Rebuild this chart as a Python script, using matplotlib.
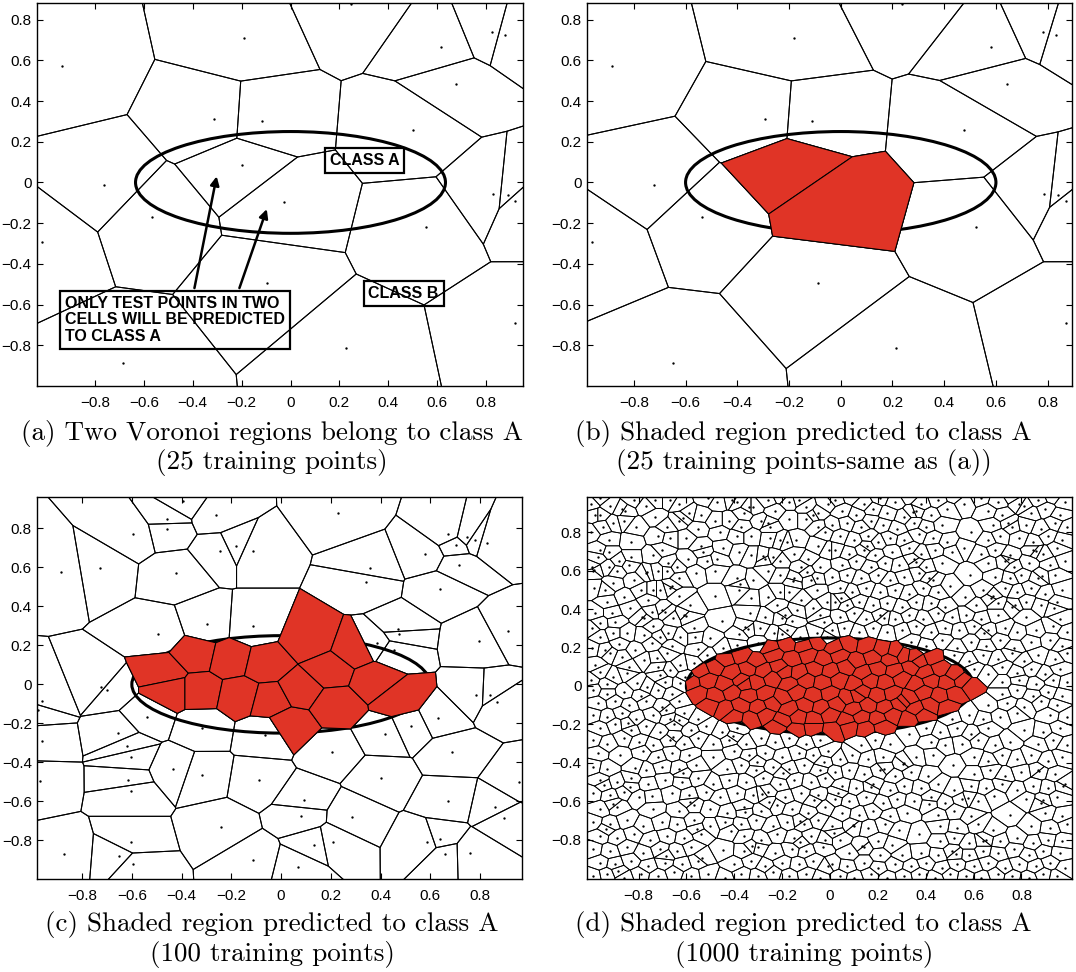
import numpy as np
import matplotlib
matplotlib.use("Agg")
import matplotlib.pyplot as plt
import matplotlib.tri as mtri
from matplotlib.collections import PolyCollection
from matplotlib.patches import Ellipse

# ---- training points (data units) ----
# panel (b): 25-point training set
pts_b = [(-0.883, 0.574), (-0.179, 0.711), (-0.294, 0.313), (-0.111, 0.302),
         (-0.722, -0.012), (-0.537, -0.169), (-0.961, -0.292), (-0.089, -0.495),
         (-0.647, -0.885), (0.781, 0.738), (0.831, 0.726), (0.582, 0.666),
         (0.641, 0.485), (0.475, 0.259), (0.785, -0.056), (0.841, -0.061),
         (0.869, -0.089), (0.523, -0.218), (0.214, -0.814), (-0.187, 0.087),
         (-0.026, -0.098), (0.236, 0.878), (0.870, -0.690)]
# panel (a): the same set, read against the (wider-spaced) x axis of panel (a)
pts_a = [(-0.934, 0.574), (-0.190, 0.711), (-0.311, 0.313), (-0.118, 0.302),
         (-0.764, -0.012), (-0.568, -0.169), (-1.017, -0.292), (-0.095, -0.495),
         (-0.685, -0.885), (0.826, 0.738), (0.879, 0.726), (0.615, 0.666),
         (0.678, 0.485), (0.502, 0.259), (0.830, -0.056), (0.889, -0.061),
         (0.919, -0.089), (0.553, -0.218), (0.226, -0.814), (-0.198, 0.087),
         (-0.028, -0.098), (0.249, 0.878), (0.920, -0.690)]

# panel (c): 100 points
pts_c_out = [(-0.393, 0.941), (-0.46, 0.85), (-0.458, 0.799), (-0.596, 0.773), (-0.262, 0.869),
             (-0.181, 0.71), (-0.245, 0.686), (-0.113, 0.686), (-0.885, 0.575), (-0.728, 0.596),
             (-0.423, 0.570), (-0.297, 0.312), (-0.113, 0.302), (-0.496, 0.259), (-0.724, -0.011),
             (0.229, 0.881), (0.672, 0.77), (0.747, 0.756), (0.779, 0.739), (0.83, 0.727),
             (0.703, 0.717), (0.579, 0.668), (0.716, 0.613), (0.358, 0.599), (0.341, 0.524),
             (0.64, 0.488), (0.472, 0.285), (0.474, 0.259), (0.386, 0.211), (0.455, 0.175),
             (0.911, 0.274), (0.795, 0.225),
             (-0.699, -0.028), (-0.96, -0.086), (-0.977, -0.131), (-0.54, -0.167), (-0.656, -0.25),
             (-0.319, -0.225), (-0.064, -0.259), (-0.963, -0.291), (-0.621, -0.315), (-0.604, -0.372),
             (-0.433, -0.432), (-0.318, -0.463), (-0.09, -0.493), (-0.97, -0.495), (-0.614, -0.493),
             (-0.604, -0.545), (-0.243, -0.731), (-0.604, -0.809), (-0.872, -0.869), (-0.651, -0.883),
             (-0.597, -0.922), (-0.113, -0.902),
             (0.783, -0.055), (0.84, -0.057), (0.868, -0.091), (0.633, -0.173), (0.522, -0.216),
             (0.416, -0.254), (0.205, -0.345), (0.688, -0.348), (0.402, -0.481), (0.956, -0.502),
             (0.091, -0.591), (0.673, -0.597), (0.861, -0.63), (0.08, -0.673), (0.287, -0.683),
             (0.897, -0.686), (0.134, -0.823), (0.21, -0.811), (0.586, -0.809), (0.641, -0.794),
             (0.66, -0.868), (0.758, -0.866), (0.067, -0.937)]
pts_c_in = [(-0.47, 0.06), (-0.346, 0.151), (-0.205, 0.126), (-0.064, 0.10), (-0.326, -0.028),
            (-0.165, -0.054), (-0.044, -0.079), (0.117, 0.228), (0.197, 0.074), (0.298, 0.177),
            (0.378, 0.023), (0.479, -0.079), (0.076, -0.028), (0.036, -0.208), (0.217, -0.105),
            (-0.447, -0.028)]

# panel (d): 1000 points, by quarter of the square
d_upper_left = [
    (-0.87, 0.92), (-0.77, 0.94), (-0.73, 0.97), (-0.67, 0.97), (-0.63, 0.95), (-0.59, 0.90), (-0.54, 0.89),
    (-0.47, 0.96), (-0.41, 0.97), (-0.39, 0.96), (-0.34, 0.93), (-0.32, 0.93), (-0.21, 0.99), (-0.17, 0.96),
    (-0.13, 0.97), (-0.10, 0.93), (-0.07, 0.89), (-0.05, 0.90), (-1.0, 0.95), (-0.96, 0.98), (-0.92, 0.94),
    (-0.82, 0.97), (-0.51, 0.98), (-0.26, 0.97), (-0.98, 0.89), (-0.96, 0.89), (-0.73, 0.88), (-0.68, 0.83),
    (-0.63, 0.86), (-0.48, 0.86), (-0.42, 0.86), (-0.37, 0.83), (-0.29, 0.86), (-0.26, 0.85), (-0.25, 0.83),
    (-0.17, 0.87), (-0.10, 0.87), (-0.05, 0.83), (-0.905, 0.85), (-0.81, 0.83), (-1.0, 0.80), (-0.83, 0.75),
    (-0.60, 0.77), (-0.54, 0.73), (-0.46, 0.80), (-0.445, 0.72), (-0.39, 0.78), (-0.33, 0.78), (-0.25, 0.77),
    (-0.21, 0.76), (-0.18, 0.75), (-0.14, 0.76), (-0.05, 0.73), (-0.006, 0.71), (-0.925, 0.76), (-0.72, 0.78),
    (-0.96, 0.71), (-0.925, 0.70), (-0.83, 0.67), (-0.74, 0.68), (-0.675, 0.64), (-0.64, 0.62), (-0.595, 0.66),
    (-0.38, 0.70), (-0.33, 0.68), (-0.27, 0.66), (-0.24, 0.67), (-0.21, 0.65), (-0.15, 0.69), (-0.09, 0.66),
    (-0.04, 0.62), (-0.515, 0.65), (-0.995, 0.62), (-0.99, 0.60), (-0.925, 0.62), (-0.89, 0.60), (-0.84, 0.63),
    (-0.77, 0.59), (-0.72, 0.60), (-0.68, 0.60), (-0.63, 0.56), (-0.56, 0.59), (-0.48, 0.60), (-0.39, 0.56),
    (-0.375, 0.53), (-0.32, 0.55), (-0.26, 0.60), (-0.21, 0.58), (-0.15, 0.56), (-0.097, 0.595), (-0.055, 0.56),
    (-0.985, 0.51), (-0.94, 0.50), (-0.905, 0.535), (-0.86, 0.465), (-0.79, 0.50), (-0.74, 0.50), (-0.71, 0.50),
    (-0.67, 0.51), (-0.63, 0.47), (-0.585, 0.42), (-0.48, 0.47), (-0.38, 0.50), (-0.33, 0.46), (-0.26, 0.465),
    (-0.21, 0.49), (-0.17, 0.49), (-0.12, 0.45), (-0.055, 0.50), (-0.013, 0.44), (-0.98, 0.38), (-0.912, 0.38),
    (-0.898, 0.335), (-0.835, 0.405), (-0.786, 0.36), (-0.745, 0.387), (-0.689, 0.387), (-0.654, 0.352),
    (-0.612, 0.37), (-0.45, 0.34), (-0.334, 0.378), (-0.271, 0.36), (-0.201, 0.352),
    (-0.187, 0.37), (-0.139, 0.396), (-0.069, 0.404), (-0.027, 0.335), (-0.995, 0.30), (-0.96, 0.257),
    (-0.905, 0.274), (-0.85, 0.274), (-0.779, 0.265), (-0.744, 0.222), (-0.71, 0.257), (-0.675, 0.274),
    (-0.626, 0.257), (-0.563, 0.257), (-0.50, 0.248), (-0.445, 0.196), (-0.389, 0.213), (-0.354, 0.309),
    (-0.292, 0.30), (-0.236, 0.274), (-0.18, 0.291), (-0.125, 0.257), (-0.055, 0.274), (-0.013, 0.257),
    (-0.995, 0.196), (-0.94, 0.187), (-0.919, 0.17), (-0.87, 0.153), (-0.814, 0.187), (-0.779, 0.135),
    (-0.724, 0.144), (-0.679, 0.17), (-0.626, 0.109), (-0.57, 0.118), (-0.515, 0.16), (-1.0, 0.031),
    (-0.96, 0.074), (-0.905, 0.048), (-0.85, 0.066), (-0.807, 0.014), (-0.765, -0.004), (-0.71, 0.057),
    (-0.668, 0.083), (-0.626, 0.014), (-0.605, 0.048), (-0.95, 0.83), (-0.86, 0.86),
    (-0.67, 0.77), (-0.55, 0.82), (-0.36, 0.90), (-0.23, 0.91), (-0.01, 0.95), (-0.02, 0.80), (-0.97, 0.67),
    (-0.88, 0.65), (-0.70, 0.71), (-0.53, 0.70), (-0.47, 0.66), (-0.12, 0.62), (-0.93, 0.44), (-0.82, 0.55),
    (-0.76, 0.45), (-0.22, 0.42), (-0.08, 0.55), (-0.04, 0.37), (-0.96, 0.33),
    (-0.74, 0.31), (-0.57, 0.30), (-0.38, 0.27), (-0.30, 0.225), (-0.16, 0.34), (-0.88, 0.22), (-0.66, 0.21),
    (-0.55, 0.19), (-0.98, 0.11), (-0.84, 0.10), (-0.72, 0.10), (-0.93, 0.01), (-0.69, 0.02), (-0.20, 0.27),
    (-0.855, 0.912), (-0.615, 0.874), (-0.70, 0.398), (-0.155, 0.545), (-0.342, 0.296), (-0.602, 0.362),
    (-0.985, 0.605), (-0.765, 0.592), (-0.28, 0.675), (-0.662, 0.522), (-0.776, 0.352)]
d_upper_right = [
    (0.02, 0.97), (0.09, 0.99), (0.14, 0.95), (0.21, 0.98), (0.27, 0.96), (0.33, 0.99), (0.38, 0.95),
    (0.45, 0.97), (0.52, 0.99), (0.56, 0.95), (0.63, 0.98), (0.70, 0.96), (0.76, 0.99), (0.79, 0.95),
    (0.81, 0.94), (0.87, 0.97), (0.93, 0.99), (0.98, 0.96), (0.05, 0.91), (0.11, 0.89), (0.18, 0.92),
    (0.24, 0.90), (0.31, 0.88), (0.36, 0.91), (0.42, 0.89), (0.49, 0.92), (0.66, 0.91), (0.72, 0.89),
    (0.84, 0.90), (0.90, 0.92), (0.96, 0.89), (0.01, 0.84), (0.07, 0.85), (0.13, 0.83), (0.17, 0.86),
    (0.22, 0.84), (0.28, 0.82), (0.35, 0.85), (0.40, 0.83), (0.47, 0.84), (0.59, 0.80), (0.68, 0.84),
    (0.745, 0.85), (0.76, 0.83), (0.82, 0.84), (0.88, 0.82), (0.94, 0.85), (0.99, 0.83), (0.04, 0.78),
    (0.10, 0.76), (0.16, 0.78), (0.20, 0.75), (0.25, 0.77), (0.31, 0.76), (0.37, 0.79), (0.43, 0.77),
    (0.49, 0.75), (0.66, 0.76), (0.71, 0.78), (0.79, 0.77), (0.85, 0.75), (0.91, 0.78), (0.97, 0.76),
    (0.02, 0.71), (0.08, 0.69), (0.14, 0.71), (0.19, 0.68), (0.26, 0.70), (0.33, 0.72), (0.38, 0.69),
    (0.44, 0.71), (0.51, 0.70), (0.56, 0.72), (0.63, 0.69), (0.69, 0.71), (0.75, 0.68), (0.85, 0.71),
    (0.89, 0.69), (0.95, 0.72), (0.05, 0.63), (0.11, 0.65), (0.17, 0.62), (0.23, 0.64), (0.29, 0.63),
    (0.35, 0.66), (0.40, 0.62), (0.47, 0.64), (0.66, 0.64), (0.73, 0.65), (0.77, 0.62),
    (0.83, 0.64), (0.92, 0.63), (0.98, 0.65), (0.01, 0.57), (0.07, 0.58), (0.13, 0.56), (0.20, 0.58),
    (0.25, 0.55), (0.31, 0.57), (0.37, 0.59), (0.43, 0.55), (0.585, 0.58), (0.69, 0.57), (0.75, 0.56),
    (0.80, 0.58), (0.87, 0.56), (0.94, 0.58), (0.04, 0.51), (0.09, 0.49), (0.15, 0.51), (0.21, 0.49),
    (0.27, 0.50), (0.33, 0.48), (0.39, 0.51), (0.45, 0.49), (0.50, 0.52), (0.64, 0.50), (0.68, 0.47),
    (0.73, 0.51), (0.78, 0.49), (0.84, 0.51), (0.90, 0.48), (0.97, 0.50), (0.02, 0.44), (0.07, 0.42),
    (0.12, 0.44), (0.18, 0.42), (0.24, 0.43), (0.30, 0.41), (0.36, 0.44), (0.42, 0.43), (0.48, 0.41),
    (0.565, 0.465), (0.61, 0.42), (0.70, 0.43), (0.76, 0.41), (0.82, 0.44), (0.88, 0.42), (0.95, 0.44),
    (0.04, 0.36), (0.10, 0.38), (0.15, 0.35), (0.21, 0.37), (0.27, 0.35), (0.33, 0.37), (0.39, 0.35),
    (0.45, 0.38), (0.51, 0.36), (0.57, 0.37), (0.63, 0.35), (0.70, 0.37), (0.82, 0.36),
    (0.96, 0.35), (0.01, 0.29), (0.06, 0.30), (0.12, 0.28), (0.18, 0.30), (0.24, 0.28), (0.30, 0.29),
    (0.36, 0.31), (0.42, 0.28), (0.48, 0.30), (0.54, 0.29), (0.60, 0.31), (0.66, 0.29), (0.73, 0.30),
    (0.78, 0.28), (0.86, 0.29), (0.93, 0.31), (0.99, 0.28), (0.34, 0.23), (0.40, 0.21), (0.47, 0.24),
    (0.53, 0.20), (0.59, 0.23), (0.65, 0.21), (0.71, 0.24), (0.77, 0.20), (0.84, 0.23), (0.92, 0.24),
    (0.97, 0.21), (0.52, 0.16), (0.58, 0.13), (0.64, 0.16), (0.70, 0.14), (0.76, 0.17), (0.81, 0.13),
    (0.87, 0.16), (0.94, 0.14), (0.99, 0.17), (0.60, 0.09), (0.66, 0.06), (0.72, 0.10), (0.78, 0.07),
    (0.84, 0.09), (0.90, 0.06), (0.96, 0.09), (0.72, 0.02), (0.79, 0.03), (0.86, 0.01), (0.93, 0.03),
    (0.99, 0.02), (0.155, 0.728), (0.415, 0.562), (0.772, 0.422), (0.225, 0.356), (0.885, 0.575),
    (0.345, 0.905), (0.048, 0.458), (0.645, 0.275), (0.935, 0.405), (0.36, 0.648), (0.672, 0.458),
    (0.862, 0.702), (0.742, 0.66)]
d_lower_left = [
    (-0.99, -0.02), (-0.93, -0.04), (-0.86, -0.03), (-0.79, -0.05), (-0.72, -0.02), (-0.66, -0.04),
    (-0.97, -0.09), (-0.90, -0.08), (-0.84, -0.10), (-0.77, -0.08), (-0.70, -0.11), (-0.63, -0.08),
    (-0.99, -0.15), (-0.93, -0.16), (-0.87, -0.14), (-0.81, -0.17), (-0.74, -0.15), (-0.67, -0.17),
    (-0.61, -0.14), (-0.55, -0.17), (-0.96, -0.22), (-0.90, -0.20), (-0.83, -0.23), (-0.77, -0.21),
    (-0.71, -0.24), (-0.65, -0.20), (-0.58, -0.23), (-0.52, -0.21), (-0.45, -0.24), (-0.39, -0.22),
    (-0.99, -0.28), (-0.93, -0.30), (-0.86, -0.27), (-0.80, -0.29), (-0.74, -0.31), (-0.67, -0.28),
    (-0.61, -0.30), (-0.55, -0.27), (-0.49, -0.30), (-0.42, -0.28), (-0.35, -0.30), (-0.29, -0.27),
    (-0.23, -0.29), (-0.17, -0.27), (-0.10, -0.30), (-0.04, -0.28), (-0.97, -0.35), (-0.877, -0.36),
    (-0.78, -0.34), (-0.72, -0.37), (-0.66, -0.35), (-0.59, -0.36), (-0.487, -0.37), (-0.40, -0.34),
    (-0.34, -0.36), (-0.27, -0.35), (-0.20, -0.37), (-0.13, -0.35), (-0.07, -0.36), (-0.01, -0.34),
    (-0.99, -0.42), (-0.93, -0.43), (-0.77, -0.44), (-0.70, -0.42), (-0.63, -0.43),
    (-0.56, -0.41), (-0.43, -0.43), (-0.37, -0.41), (-0.31, -0.44), (-0.24, -0.42), (-0.17, -0.43),
    (-0.11, -0.41), (-0.04, -0.44), (-0.96, -0.49), (-0.89, -0.50), (-0.83, -0.48), (-0.76, -0.51),
    (-0.69, -0.49), (-0.62, -0.50), (-0.55, -0.48), (-0.49, -0.51), (-0.42, -0.49), (-0.35, -0.50),
    (-0.28, -0.48), (-0.21, -0.51), (-0.15, -0.49), (-0.08, -0.50), (-0.02, -0.48), (-0.99, -0.56),
    (-0.92, -0.57), (-0.86, -0.55), (-0.80, -0.58), (-0.66, -0.56), (-0.59, -0.57), (-0.52, -0.55),
    (-0.46, -0.58), (-0.39, -0.56), (-0.32, -0.57), (-0.26, -0.55), (-0.19, -0.58), (-0.12, -0.56),
    (-0.05, -0.57), (-0.96, -0.64), (-0.89, -0.63), (-0.74, -0.64), (-0.63, -0.65), (-0.57, -0.62),
    (-0.50, -0.64), (-0.43, -0.66), (-0.36, -0.63), (-0.29, -0.65), (-0.22, -0.62), (-0.16, -0.64),
    (-0.09, -0.66), (-0.02, -0.63), (-0.99, -0.71), (-0.92, -0.72), (-0.85, -0.70), (-0.78, -0.73),
    (-0.70, -0.71), (-0.64, -0.72), (-0.57, -0.70), (-0.50, -0.73), (-0.44, -0.71), (-0.37, -0.72),
    (-0.31, -0.70), (-0.24, -0.73), (-0.18, -0.71), (-0.11, -0.72), (-0.05, -0.70), (-0.96, -0.78),
    (-0.89, -0.79), (-0.82, -0.77), (-0.75, -0.80), (-0.68, -0.78), (-0.61, -0.79), (-0.54, -0.77),
    (-0.36, -0.78), (-0.29, -0.80), (-0.22, -0.77), (-0.15, -0.79), (-0.08, -0.78), (-0.02, -0.80),
    (-0.99, -0.85), (-0.92, -0.86), (-0.85, -0.84), (-0.78, -0.87), (-0.71, -0.85), (-0.64, -0.86),
    (-0.58, -0.84), (-0.445, -0.855), (-0.36, -0.86), (-0.30, -0.84), (-0.23, -0.87), (-0.16, -0.85),
    (-0.10, -0.86), (-0.03, -0.84), (-0.96, -0.92), (-0.90, -0.93), (-0.83, -0.91), (-0.76, -0.94),
    (-0.69, -0.92), (-0.62, -0.93), (-0.55, -0.91), (-0.40, -0.93), (-0.33, -0.91),
    (-0.27, -0.94), (-0.20, -0.92), (-0.13, -0.93), (-0.07, -0.91), (-0.01, -0.94), (-0.99, -0.99),
    (-0.93, -0.98), (-0.86, -1.00), (-0.79, -0.98), (-0.72, -0.99), (-0.65, -0.97), (-0.58, -0.99),
    (-0.51, -0.98), (-0.44, -1.00), (-0.37, -0.98), (-0.30, -0.99), (-0.24, -0.97), (-0.17, -0.99),
    (-0.10, -0.98), (-0.04, -1.00), (-0.305, -0.395), (-0.615, -0.455), (-0.835, -0.525),
    (-0.255, -0.605), (-0.555, -0.745), (-0.125, -0.815), (-0.685, -0.885), (-0.415, -0.755),
    (-0.935, -0.745), (-0.195, -0.455), (-0.065, -0.595), (-0.355, -0.655),
    (-0.885, -0.965), (-0.845, -0.195), (-0.685, -0.125), (-0.945, -0.515),
    (-0.025, -0.395), (-0.585, -0.605), (-0.325, -0.835), (-0.285, -0.565), (-0.815, -0.425),
    (-0.535, -0.895), (-0.125, -0.702), (-0.655, -0.265), (-0.905, -0.615), (-0.745, -0.575),
    (-0.632, -0.178), (-0.405, -0.262)]
d_lower_right = [
    (0.72, -0.04), (0.78, -0.02), (0.85, -0.05), (0.91, -0.03), (0.97, -0.05), (0.66, -0.10),
    (0.74, -0.09), (0.81, -0.11), (0.88, -0.08), (0.95, -0.10), (0.51, -0.17), (0.58, -0.15),
    (0.64, -0.17), (0.71, -0.16), (0.78, -0.14), (0.92, -0.15), (0.99, -0.16),
    (0.33, -0.25), (0.40, -0.22), (0.46, -0.24), (0.53, -0.22), (0.59, -0.25), (0.66, -0.22),
    (0.81, -0.23), (0.89, -0.24), (0.96, -0.22), (0.13, -0.31), (0.19, -0.28), (0.25, -0.30),
    (0.42, -0.29), (0.48, -0.31), (0.55, -0.30), (0.62, -0.28), (0.69, -0.31), (0.75, -0.29),
    (0.87, -0.30), (0.93, -0.28), (0.99, -0.31), (0.04, -0.38), (0.09, -0.36), (0.16, -0.38),
    (0.22, -0.37), (0.31, -0.40), (0.36, -0.37), (0.43, -0.36), (0.60, -0.37), (0.66, -0.39),
    (0.72, -0.36), (0.78, -0.38), (0.84, -0.36), (0.91, -0.39), (0.97, -0.37), (0.02, -0.45),
    (0.08, -0.44), (0.14, -0.46), (0.21, -0.44), (0.27, -0.47), (0.34, -0.45), (0.41, -0.47),
    (0.515, -0.41), (0.60, -0.46), (0.67, -0.44), (0.73, -0.47), (0.80, -0.45), (0.87, -0.44),
    (0.94, -0.46), (0.05, -0.52), (0.11, -0.53), (0.18, -0.51), (0.25, -0.54), (0.31, -0.52),
    (0.38, -0.53), (0.45, -0.51), (0.52, -0.54), (0.59, -0.52), (0.65, -0.53), (0.72, -0.51),
    (0.78, -0.54), (0.85, -0.52), (0.91, -0.53), (0.98, -0.51), (0.02, -0.59), (0.08, -0.60),
    (0.15, -0.58), (0.22, -0.61), (0.28, -0.59), (0.35, -0.60), (0.42, -0.58), (0.48, -0.61),
    (0.55, -0.59), (0.62, -0.60), (0.82, -0.59), (0.88, -0.61), (0.95, -0.58), (0.05, -0.66),
    (0.12, -0.67), (0.18, -0.65), (0.25, -0.68), (0.32, -0.66), (0.45, -0.67), (0.52, -0.65),
    (0.59, -0.68), (0.75, -0.67), (0.90, -0.66), (0.97, -0.68), (0.01, -0.73), (0.10, -0.73),
    (0.16, -0.74), (0.23, -0.72), (0.29, -0.75), (0.37, -0.77), (0.46, -0.73), (0.53, -0.74),
    (0.62, -0.72), (0.68, -0.75), (0.84, -0.73), (0.92, -0.74), (0.99, -0.72), (0.04, -0.80),
    (0.20, -0.81), (0.26, -0.83), (0.46, -0.81), (0.52, -0.79), (0.58, -0.82), (0.65, -0.80),
    (0.71, -0.81), (0.78, -0.79), (0.85, -0.82), (0.91, -0.80), (0.97, -0.81), (0.08, -0.87),
    (0.14, -0.84), (0.21, -0.88), (0.30, -0.88), (0.38, -0.87), (0.45, -0.88), (0.51, -0.86),
    (0.58, -0.88), (0.64, -0.86), (0.70, -0.87), (0.77, -0.85), (0.83, -0.88), (0.89, -0.86),
    (0.96, -0.87), (0.01, -0.93), (0.07, -0.94), (0.14, -0.92), (0.20, -0.95), (0.27, -0.93),
    (0.34, -0.94), (0.40, -0.92), (0.47, -0.95), (0.53, -0.93), (0.60, -0.94), (0.66, -0.92),
    (0.73, -0.95), (0.79, -0.93), (0.86, -0.94), (0.92, -0.92), (0.98, -0.95), (0.04, -0.99),
    (0.10, -1.00), (0.17, -0.98), (0.24, -1.00), (0.31, -0.99), (0.37, -0.98), (0.44, -1.00),
    (0.50, -0.98), (0.57, -0.99), (0.63, -1.00), (0.70, -0.98), (0.76, -0.99), (0.83, -1.00),
    (0.89, -0.98), (0.95, -0.99), (0.64, -0.81), (0.095, -0.725), (0.305, -0.405), (0.135, -0.835),
    (0.875, -0.445), (0.17, -0.525), (0.525, -0.875), (0.89, -0.595), (0.225, -0.43),
    (0.035, -0.555), (0.415, -0.615), (0.685, -0.575), (0.578, -0.582), (0.018, -0.765), (0.972, -0.522)]
d_inside = [
    (-0.25, 0.20), (-0.18, 0.22), (-0.11, 0.21), (-0.05, 0.23), (0.02, 0.20), (0.08, 0.22), (0.15, 0.21),
    (0.22, 0.19), (0.27, 0.18), (-0.44, 0.14), (-0.37, 0.16), (-0.31, 0.13), (-0.235, 0.165), (-0.16, 0.14),
    (-0.09, 0.16), (-0.03, 0.14), (0.04, 0.16), (0.11, 0.13), (0.18, 0.15), (0.25, 0.14), (0.31, 0.16),
    (0.37, 0.13), (0.43, 0.15), (-0.54, 0.08), (-0.48, 0.10), (-0.41, 0.07), (-0.34, 0.09), (-0.28, 0.08),
    (-0.21, 0.10), (-0.13, 0.07), (-0.06, 0.09), (0.00, 0.08), (0.07, 0.10), (0.14, 0.07), (0.20, 0.09),
    (0.27, 0.08), (0.34, 0.10), (0.40, 0.07), (0.46, 0.09), (0.52, 0.06), (-0.58, 0.02), (-0.51, 0.03),
    (-0.44, 0.01), (-0.37, 0.03), (-0.31, 0.02), (-0.24, 0.04), (-0.17, 0.01), (-0.10, 0.03), (-0.03, 0.02),
    (0.04, 0.03), (0.10, 0.01), (0.17, 0.03), (0.23, 0.02), (0.30, 0.04), (0.36, 0.01), (0.42, 0.03),
    (0.49, 0.02), (0.55, 0.03), (0.59, 0.00), (-0.55, -0.04), (-0.48, -0.05), (-0.41, -0.03), (-0.34, -0.05),
    (-0.27, -0.04), (-0.20, -0.06), (-0.14, -0.03), (-0.07, -0.05), (0.00, -0.04), (0.07, -0.06),
    (0.13, -0.03), (0.20, -0.05), (0.26, -0.04), (0.33, -0.06), (0.39, -0.03), (0.46, -0.05), (0.52, -0.04),
    (-0.50, -0.10), (-0.44, -0.12), (-0.37, -0.10), (-0.30, -0.11), (-0.24, -0.09), (-0.17, -0.12),
    (-0.10, -0.10), (-0.04, -0.11), (0.03, -0.09), (0.10, -0.12), (0.16, -0.10), (0.23, -0.11), (0.29, -0.09),
    (0.36, -0.12), (0.42, -0.10), (0.49, -0.11), (-0.40, -0.16), (-0.33, -0.17), (-0.27, -0.15),
    (-0.20, -0.18), (-0.13, -0.16), (-0.07, -0.17), (0.00, -0.15), (0.07, -0.18), (0.13, -0.16),
    (0.20, -0.17), (0.26, -0.15), (0.33, -0.17), (0.39, -0.15), (-0.22, -0.21), (-0.14, -0.23),
    (-0.07, -0.22), (0.01, -0.23), (0.08, -0.21), (0.15, -0.22), (0.22, -0.21),
    (-0.355, 0.012), (0.305, -0.078), (-0.19, 0.075), (0.115, -0.048), (0.35, 0.155)]

ticks = [-0.8, -0.6, -0.4, -0.2, 0, 0.2, 0.4, 0.6, 0.8]
tick_labels = ["\u22120.8", "\u22120.6", "\u22120.4", "\u22120.2", "0", "0.2", "0.4", "0.6", "0.8"]

captions = [("(a) Two Voronoi regions belong to class A", "(25 training points)"),
            ("(b) Shaded region predicted to class A", "(25 training points-same as (a))"),
            ("(c) Shaded region predicted to class A", "(100 training points)"),
            ("(d) Shaded region predicted to class A", "(1000 training points)")]

RED = "#e03426"


def to_xy(*lists):
    p = np.array([q for l in lists for q in l], dtype=float)
    p = np.unique(np.round(p, 3), axis=0)
    return p[:, 0], p[:, 1]


def voronoi_cells(x, y):
    # far ring of helper sites so every real cell is closed
    ang = np.linspace(0, 2 * np.pi, 32, endpoint=False)
    fx = np.concatenate([x, 40 * np.cos(ang)])
    fy = np.concatenate([y, 40 * np.sin(ang)])
    t = mtri.Triangulation(fx, fy).triangles
    ax_, ay_ = fx[t[:, 0]], fy[t[:, 0]]
    bx, by = fx[t[:, 1]], fy[t[:, 1]]
    cx, cy = fx[t[:, 2]], fy[t[:, 2]]
    d = 2 * (ax_ * (by - cy) + bx * (cy - ay_) + cx * (ay_ - by))
    a2, b2, c2 = ax_ ** 2 + ay_ ** 2, bx ** 2 + by ** 2, cx ** 2 + cy ** 2
    ux = (a2 * (by - cy) + b2 * (cy - ay_) + c2 * (ay_ - by)) / d
    uy = (a2 * (cx - bx) + b2 * (ax_ - cx) + c2 * (bx - ax_)) / d
    cells = []
    for i in range(len(x)):
        idx = np.where((t == i).any(axis=1))[0]
        vx, vy = ux[idx], uy[idx]
        order = np.argsort(np.arctan2(vy - y[i], vx - x[i]))
        cells.append(np.column_stack([vx[order], vy[order]]))
    return cells


def draw_panel(ax, x, y, xlim, ylim, semi_x=0.6, shade=True, lw=0.75):
    cells = voronoi_cells(x, y)
    inside = (x / semi_x) ** 2 + (y / 0.25) ** 2 < 1
    ax.add_collection(PolyCollection(cells, facecolors="none", edgecolors="k", linewidths=lw, zorder=1))
    ax.plot(x, y, "o", color="k", ms=1.7, mew=0, zorder=2)
    ax.add_patch(Ellipse((0, 0), 2 * semi_x, 0.5, fill=False, ec="k", lw=2.2, zorder=3))
    if shade:
        red = [c for c, k in zip(cells, inside) if k]
        ax.add_collection(PolyCollection(red, facecolors=RED, edgecolors="k", linewidths=lw, zorder=4))
    ax.set_xlim(*xlim)
    ax.set_ylim(*ylim)
    ax.set_xticks(ticks)
    ax.set_xticklabels(tick_labels)
    ax.set_yticks(ticks)
    ax.set_yticklabels(tick_labels)
    ax.tick_params(direction="in", top=True, right=True, length=4, width=0.8, labelsize=11)
    ax.tick_params(axis="x", pad=7)
    ax.tick_params(axis="y", pad=4)
    for s in ax.spines.values():
        s.set_linewidth(1.0)


plt.rcParams["font.family"] = ["Liberation Sans", "DejaVu Sans"]
fig = plt.figure(figsize=(10.76, 9.72), dpi=100)

ax_a = fig.add_axes([0.0344, 0.6029, 0.4514, 0.3937])
ax_b = fig.add_axes([0.5458, 0.6029, 0.4507, 0.3937])
ax_c = fig.add_axes([0.0347, 0.0954, 0.4507, 0.3936])
ax_d = fig.add_axes([0.5458, 0.0954, 0.4507, 0.3936])

xa, ya = to_xy(pts_a)
draw_panel(ax_a, xa, ya, (-1.037, 0.950), (-1.0, 0.88), semi_x=0.634, shade=False)
xb, yb = to_xy(pts_b)
draw_panel(ax_b, xb, yb, (-0.98, 0.895), (-1.0, 0.88))
xc, yc = to_xy(pts_c_out, pts_c_in)
draw_panel(ax_c, xc, yc, (-0.98, 0.97), (-1.0, 0.963))
xd, yd = to_xy(d_upper_left, d_upper_right, d_lower_left, d_lower_right, d_inside)
draw_panel(ax_d, xd, yd, (-1.014, 1.012), (-1.007, 0.986), lw=0.6)

# annotations of panel (a)
box = dict(boxstyle="square,pad=0.3", fc="none", ec="k", lw=1.6)
ax_a.text(0.303, 0.107, "CLASS A", ha="center", va="center", fontsize=11.5,
          fontweight="bold", bbox=box, zorder=5)
ax_a.text(0.463, -0.547, "CLASS B", ha="center", va="center", fontsize=11.5,
          fontweight="bold", bbox=box, zorder=5)
ax_a.text(-0.922, -0.675, "ONLY TEST POINTS IN TWO\nCELLS WILL BE PREDICTED\nTO CLASS A",
          ha="left", va="center", fontsize=11.5, fontweight="bold", linespacing=1.12,
          bbox=box, zorder=5)
arrow = dict(arrowstyle="-|>", color="k", lw=1.8, mutation_scale=13, shrinkA=0, shrinkB=0)
ax_a.annotate("", xy=(-0.302, 0.03), xytext=(-0.393, -0.519), arrowprops=arrow, zorder=5)
ax_a.annotate("", xy=(-0.097, -0.131), xytext=(-0.209, -0.519), arrowprops=arrow, zorder=5)

# captions
cap_x = [0.2528, 0.747, 0.2528, 0.747]
cap_y = [(0.5545, 0.5237), (0.5545, 0.5237), (0.0484, 0.0175), (0.0484, 0.0175)]
for (l1, l2), cx_, (y1, y2) in zip(captions, cap_x, cap_y):
    fig.text(cx_, y1, l1, family="cmr10", fontsize=19.5, ha="center", va="center")
    fig.text(cx_, y2, l2, family="cmr10", fontsize=19.5, ha="center", va="center")

fig.savefig("out.png", dpi=100)
